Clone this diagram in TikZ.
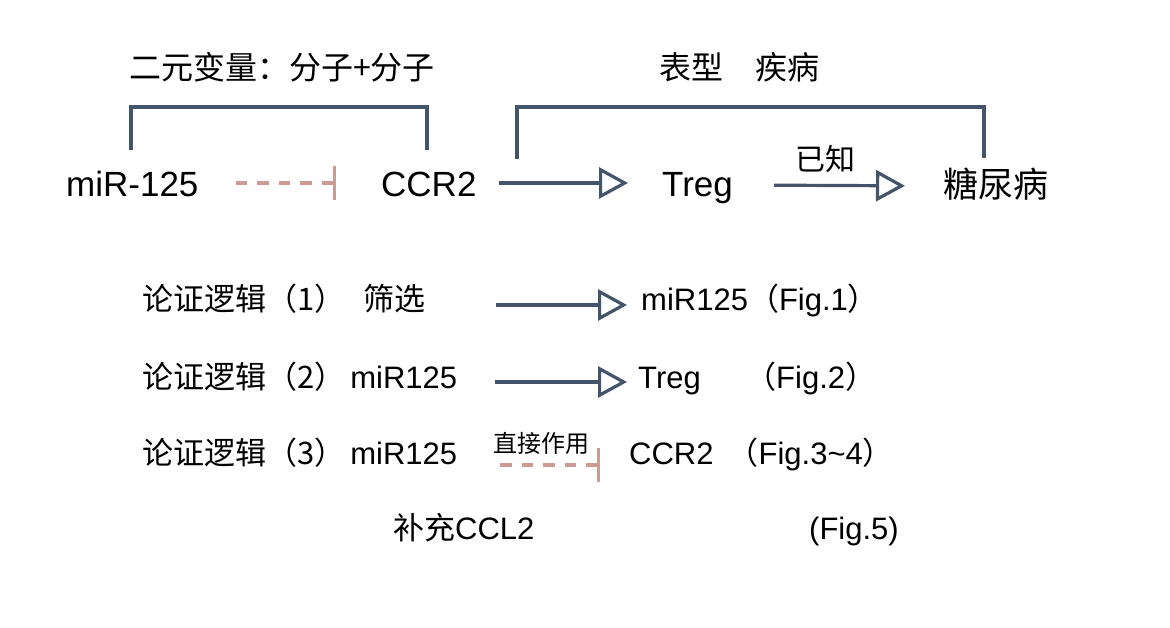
\documentclass[tikz,border=0pt]{standalone}
\usepackage{fontspec}
\setmainfont{Liberation Sans}
\newfontfamily\cjk{Noto Sans CJK SC}
\usetikzlibrary{
    arrows.meta,
    calc
}
\definecolor{slate}{HTML}{44546A}
\definecolor{rose}{HTML}{CF9A94}

\begin{document}
\begin{tikzpicture}[
    x=1pt,
    y=-1pt,
    big/.style={
        font=\fontsize{35}{42}\selectfont,
        inner sep=0pt,
        anchor=base west,
        text height=28pt,
        text depth=0pt
    },
    head/.style={
        font=\cjk\fontsize{32}{38}\selectfont,
        inner sep=0pt,
        anchor=base west
    },
    line/.style={
        font=\fontsize{31}{37}\selectfont,
        inner sep=0pt,
        anchor=base west,
        text height=12pt,
        text depth=0pt
    },
    tag/.style={
        font=\cjk\fontsize{30}{36}\selectfont,
        inner sep=0pt,
        text depth=0pt
    },
    smalltag/.style={
        font=\cjk\fontsize{24}{29}\selectfont,
        inner sep=0pt,
        text depth=0pt
    },
    arrow/.style={
        -{Triangle[open,length=29pt,width=31pt]},
        line width=3.2pt,
        draw=slate
    },
    inhibit/.style={
        -{Bar[width=34pt]},
        line width=3.2pt,
        draw=rose,
        dash pattern=on 11.5pt off 10pt
    },
    bracket/.style={
        line width=3.2pt,
        draw=slate
    }
]

\useasboundingbox (0,0) rectangle (1170,628);
\fill[white] (0,0) rectangle (1170,628);

% =========================================================
% Headings
% =========================================================
\node[head] (binary) at (129,80) {二元变量：分子+分子};
\node[head] (pheno) at (659,80) {表型　疾病};

% =========================================================
% Main chain
% =========================================================
\node[big] (mir) at (66,197) {miR-125};
\node[big] (ccr) at (381,197) {CCR2};
\node[big] (treg) at (662,197) {Treg};
\node[big] (diabetes) at (943,198) {\cjk 糖尿病};

\draw[inhibit, shorten <=37pt, shorten >=45pt] (mir.east) -- (ccr.west);
\draw[arrow, shorten <=22pt, shorten >=34pt] (ccr.east) -- (treg.west);
\draw[arrow, shorten <=41pt, shorten >=38pt] ([yshift=-2pt]treg.east) --
    node[pos=0.44, above=13pt, tag] (known) {已知} ([yshift=-2pt]diabetes.west);

% =========================================================
% Brackets
% =========================================================
\draw[bracket] (131,150) |- (427,107) -- (427,150);
\draw[bracket] (517,159) |- (984,107) -- (984,158);

% =========================================================
% Argument steps
% =========================================================
\node[line] (step1) at (142,311) {\cjk 论证逻辑（1）\hspace{18pt}筛选};
\node[line] (res1) at (641,311) {miR125{\cjk （}Fig.1{\cjk ）}};
\draw[arrow, shorten <=70pt, shorten >=14pt] (step1.east) -- (res1.west);

\node[line] (step2) at (142,388) {{\cjk 论证逻辑（2）}\hspace{5pt}miR125};
\node[line] (res2) at (638,388) {Treg};
\node[line] (fig2) at (745,388) {{\cjk （}Fig.2{\cjk ）}};
\draw[arrow, shorten <=38pt, shorten >=11pt] (step2.east) -- (res2.west);

\node[line] (step3) at (142,464) {{\cjk 论证逻辑（3）}\hspace{5pt}miR125};
\node[line] (res3) at (629,464) {CCR2\hspace{14pt}{\cjk （}Fig.3\textasciitilde 4{\cjk ）}};
\draw[inhibit, shorten <=43pt, shorten >=29pt]
    ([yshift=-7pt]step3.east) --
    node[pos=0.49, above=11pt, smalltag] (direct) {直接作用}
    ([yshift=-7pt]res3.west);

\node[line] (extra) at (393,539) {{\cjk 补充}CCL2};
\node[line] (fig5) at (809,539) {(Fig.5)};

\end{tikzpicture}
\end{document}
